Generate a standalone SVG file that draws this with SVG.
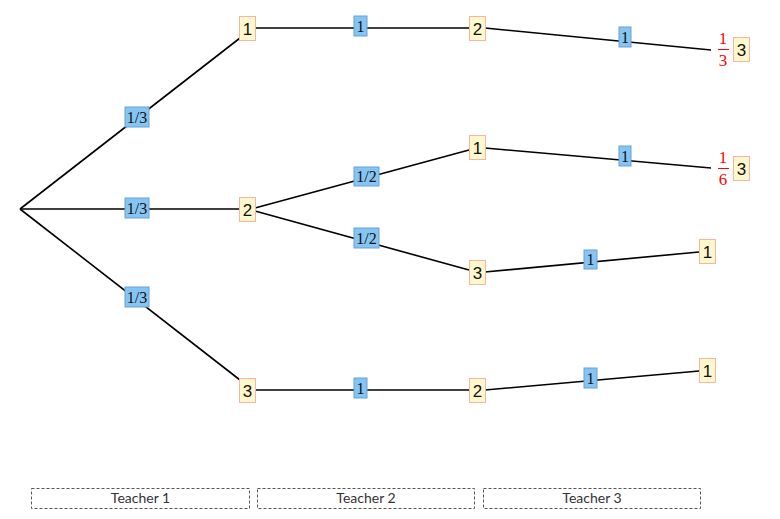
<svg xmlns="http://www.w3.org/2000/svg" width="780" height="519" viewBox="0 0 780 519">
<style>
.edge{stroke:#000;stroke-width:1.6;fill:none}
.node rect{fill:#fff8cc;stroke:#f6b4a4;stroke-width:1}
.node text{font-family:"Liberation Sans",Arial,sans-serif;font-size:17px;fill:#111;text-anchor:middle}
.lbl rect{fill:#85c5f3;stroke:#6a9fd0;stroke-width:1}
.lbl text{font-family:"Liberation Serif","Times New Roman",serif;font-size:16px;fill:#111;text-anchor:middle}
.frac text{font-family:"Liberation Serif","Times New Roman",serif;font-size:17px;fill:#f00;text-anchor:middle}
.frac line{stroke:#f00;stroke-width:1}
.teacher rect{fill:none;stroke:#555;stroke-width:1;stroke-dasharray:3,2}
.teacher text{font-family:Lato,"Liberation Sans",sans-serif;font-size:14px;fill:#333;text-anchor:middle}
</style>
<rect width="780" height="519" fill="#fff"/>
<g id="connectors">
<line class="edge" x1="20" y1="209" x2="240" y2="38"/>
<line class="edge" x1="20" y1="209" x2="240" y2="209"/>
<line class="edge" x1="20" y1="209" x2="240" y2="380"/>
<line class="edge" x1="255" y1="28" x2="469" y2="28"/>
<line class="edge" x1="255" y1="208" x2="469" y2="150"/>
<line class="edge" x1="255" y1="211" x2="469" y2="270"/>
<line class="edge" x1="255" y1="390" x2="469" y2="390"/>
<line class="edge" x1="485" y1="28" x2="711" y2="50"/>
<line class="edge" x1="485" y1="148" x2="711" y2="168"/>
<line class="edge" x1="485" y1="272" x2="699" y2="252"/>
<line class="edge" x1="485" y1="390" x2="699" y2="371"/>
</g>
<g id="lbl-a" class="lbl"><rect x="125" y="107" width="24" height="20"/><text x="137" y="123">1/3</text></g>
<g id="lbl-b" class="lbl"><rect x="125" y="198" width="24" height="20"/><text x="137" y="214">1/3</text></g>
<g id="lbl-c" class="lbl"><rect x="125" y="287" width="24" height="20"/><text x="137" y="303">1/3</text></g>
<g id="lbl-d" class="lbl"><rect x="354" y="16" width="13" height="20"/><text x="360.5" y="32">1</text></g>
<g id="lbl-e" class="lbl"><rect x="354" y="167" width="25" height="19"/><text x="366.5" y="182">1/2</text></g>
<g id="lbl-f" class="lbl"><rect x="354" y="228" width="25" height="20"/><text x="366.5" y="244">1/2</text></g>
<g id="lbl-g" class="lbl"><rect x="354" y="378" width="13" height="20"/><text x="360.5" y="394">1</text></g>
<g id="lbl-h" class="lbl"><rect x="619" y="27" width="12" height="20"/><text x="625" y="43">1</text></g>
<g id="lbl-i" class="lbl"><rect x="619" y="146" width="12" height="20"/><text x="625" y="162">1</text></g>
<g id="lbl-j" class="lbl"><rect x="584" y="250" width="13" height="19"/><text x="590.5" y="265">1</text></g>
<g id="lbl-k" class="lbl"><rect x="584" y="368" width="13" height="20"/><text x="590.5" y="384">1</text></g>
<g id="n-t1-1" class="node"><rect x="239.5" y="16.5" width="16" height="24"/><text x="247.5" y="35">1</text></g>
<g id="n-t1-2" class="node"><rect x="239.5" y="197.5" width="16" height="24"/><text x="247.5" y="216">2</text></g>
<g id="n-t1-3" class="node"><rect x="239.5" y="378.5" width="16" height="24"/><text x="247.5" y="397">3</text></g>
<g id="n-t2-2a" class="node"><rect x="469.5" y="16.5" width="16" height="24"/><text x="477.5" y="35">2</text></g>
<g id="n-t2-1" class="node"><rect x="469.5" y="135.5" width="16" height="24"/><text x="477.5" y="154">1</text></g>
<g id="n-t2-3" class="node"><rect x="469.5" y="260.5" width="16" height="24"/><text x="477.5" y="279">3</text></g>
<g id="n-t2-2b" class="node"><rect x="469.5" y="378.5" width="16" height="24"/><text x="477.5" y="397">2</text></g>
<g id="n-t3-3a" class="node"><rect x="733.5" y="37.5" width="16" height="24"/><text x="741.5" y="56">3</text></g>
<g id="n-t3-3b" class="node"><rect x="733.5" y="156.5" width="16" height="24"/><text x="741.5" y="175">3</text></g>
<g id="n-t3-1a" class="node"><rect x="699.5" y="239.5" width="16" height="24"/><text x="707.5" y="258">1</text></g>
<g id="n-t3-1b" class="node"><rect x="699.5" y="358.5" width="16" height="24"/><text x="707.5" y="377">1</text></g>
<g id="frac-a" class="frac"><text x="723" y="44">1</text><line x1="718" y1="49.5" x2="729" y2="49.5"/><text x="723" y="66">3</text></g>
<g id="frac-b" class="frac"><text x="723" y="163">1</text><line x1="718" y1="168.5" x2="729" y2="168.5"/><text x="723" y="185">6</text></g>
<g id="teacher-1" class="teacher"><rect x="31.5" y="488.5" width="218" height="20"/><text x="140.5" y="503">Teacher 1</text></g>
<g id="teacher-2" class="teacher"><rect x="257.5" y="488.5" width="217" height="20"/><text x="366" y="503">Teacher 2</text></g>
<g id="teacher-3" class="teacher"><rect x="483.5" y="488.5" width="217" height="20"/><text x="592" y="503">Teacher 3</text></g>
</svg>
